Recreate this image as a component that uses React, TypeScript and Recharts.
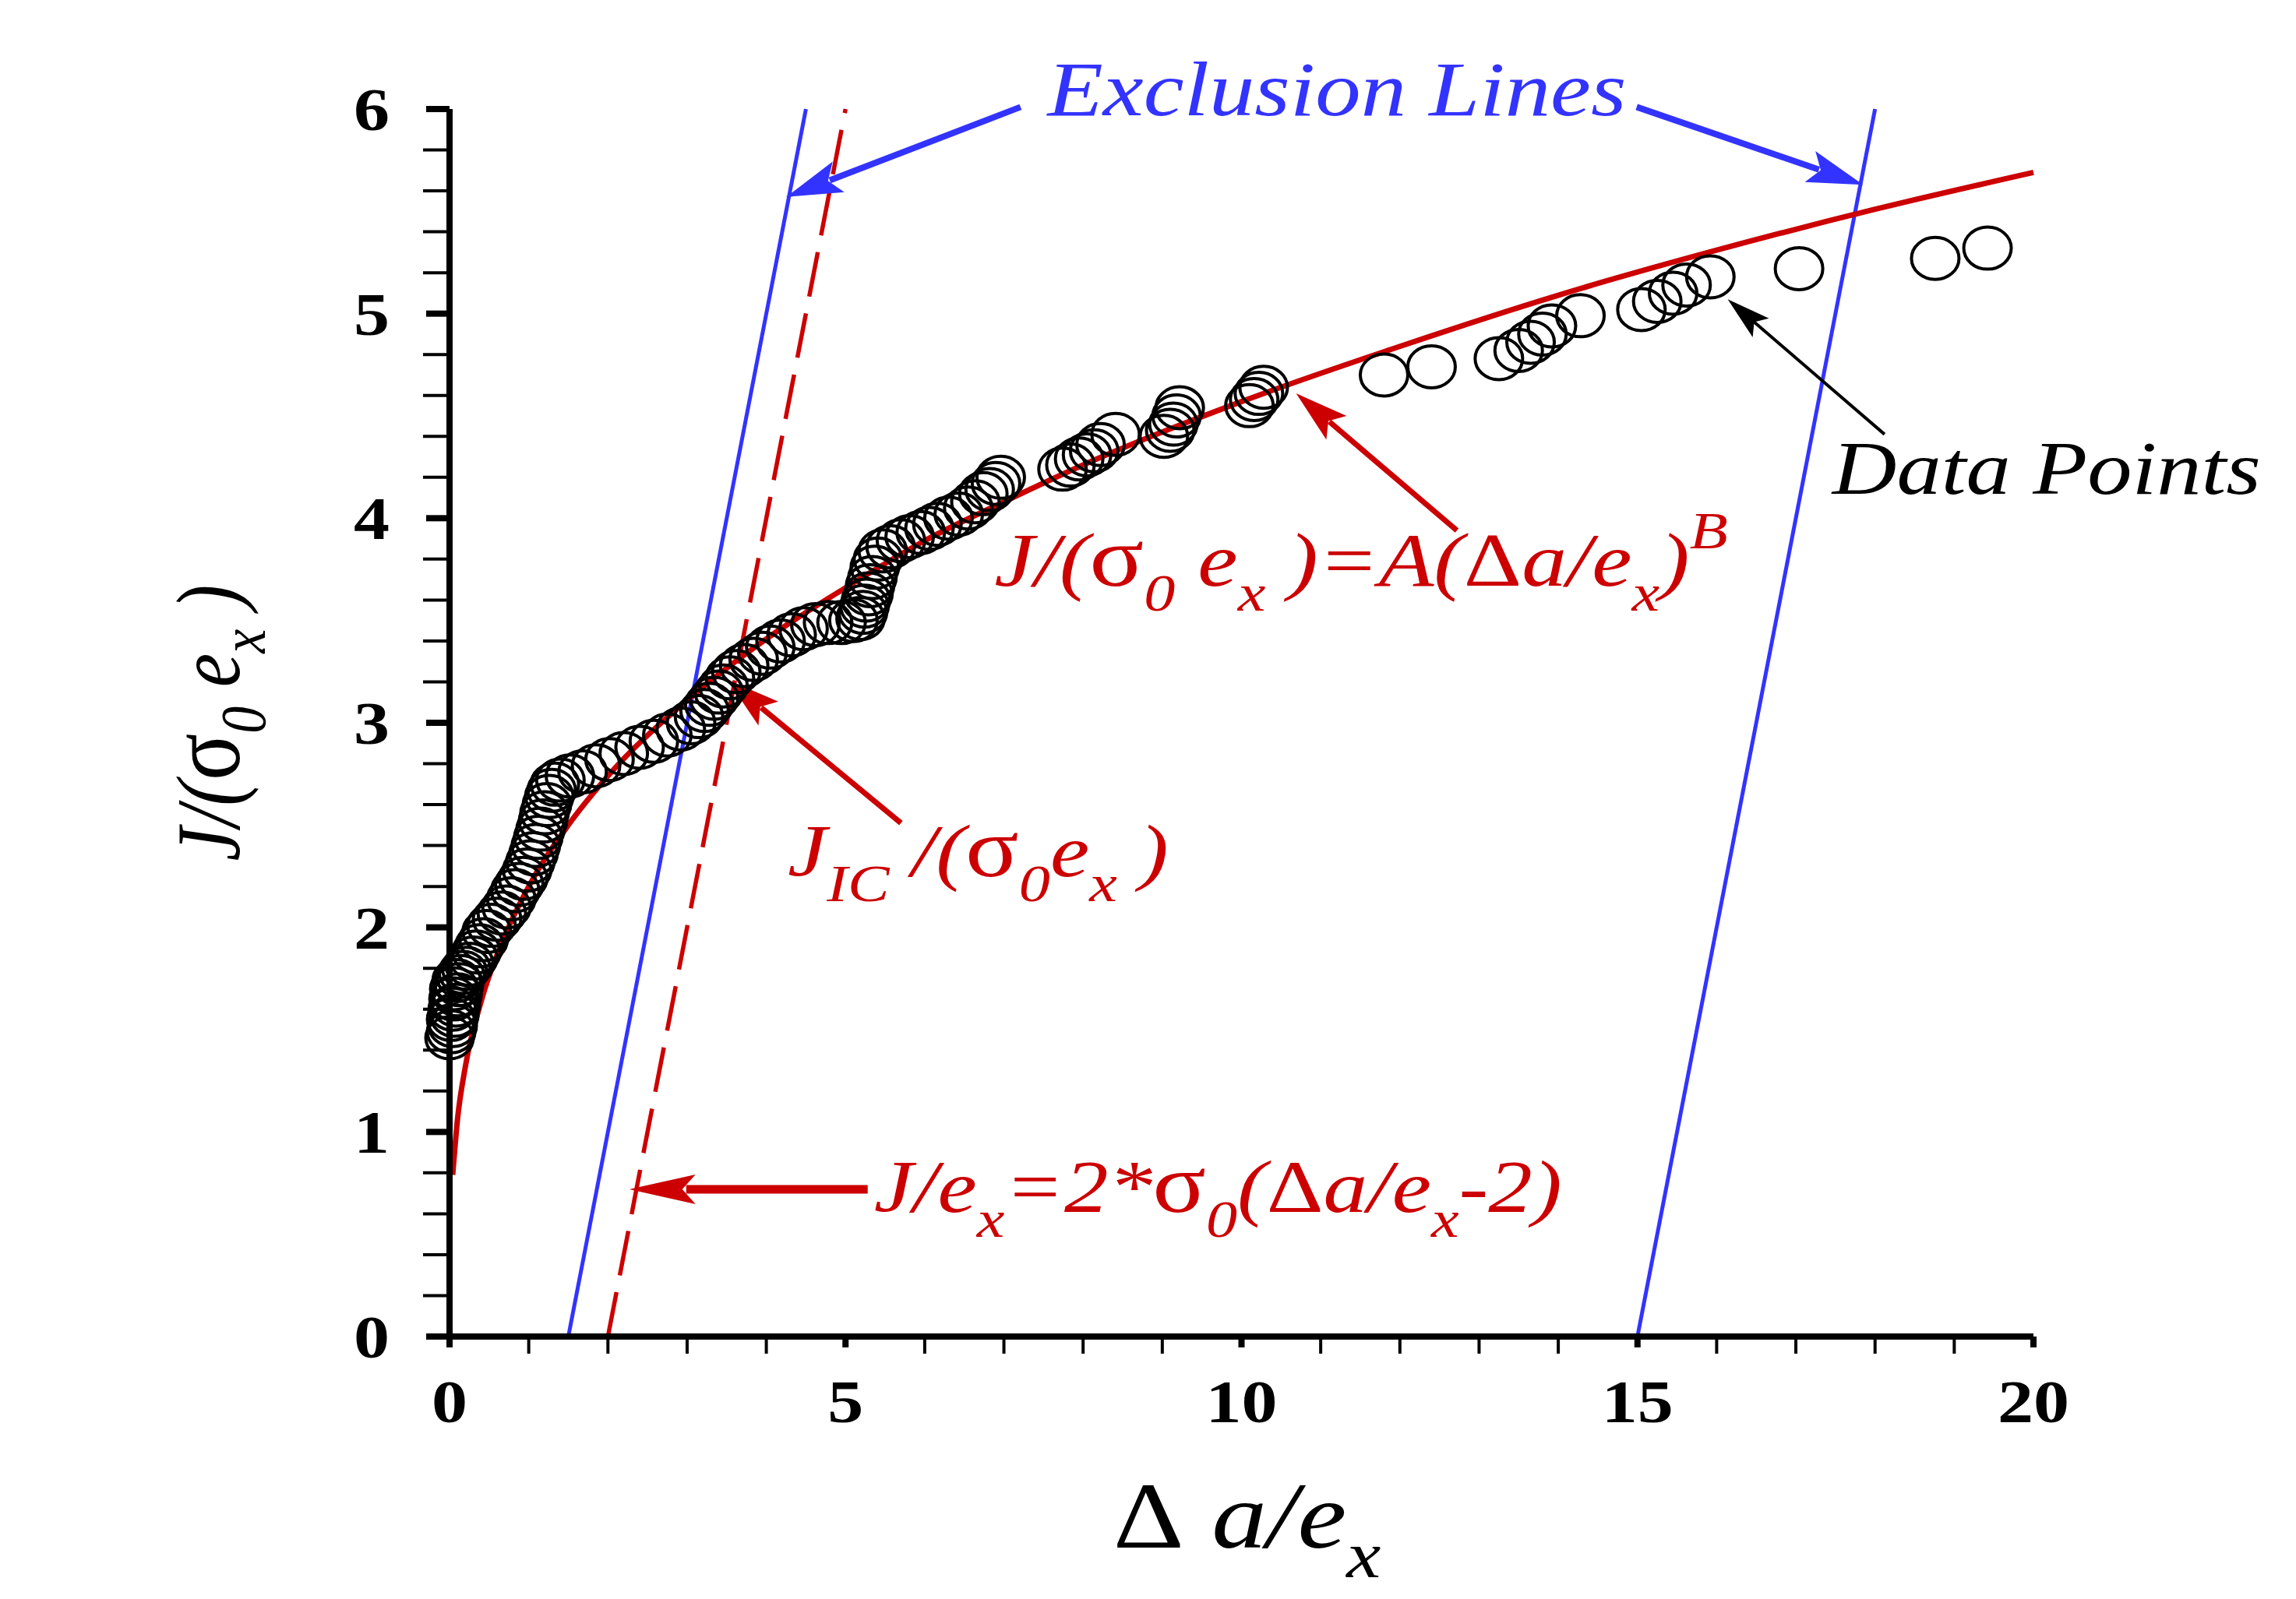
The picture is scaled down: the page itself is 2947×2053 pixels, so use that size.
import React from 'react';
import { ComposedChart, XAxis, YAxis, Scatter, Line, ReferenceLine, ReferenceDot } from 'recharts';

const W = 2947;
const H = 2053;
const SX = 1.18;
const FONT = '"Liberation Serif", "Times New Roman", serif';
const RED = '#cc0000';
const BLUE = '#3333ff';

// ---- tick values ----
const xTicks = [0, 1, 2, 3, 4, 5, 6, 7, 8, 9, 10, 11, 12, 13, 14, 15, 16, 17, 18, 19, 20];
const xMajor = [0, 5, 10, 15, 20];
const yTicks = [0, 0.2, 0.4, 0.6, 0.8, 1, 1.2, 1.4, 1.6, 1.8, 2, 2.2, 2.4, 2.6, 2.8, 3, 3.2, 3.4, 3.6, 3.8, 4, 4.2, 4.4, 4.6, 4.8, 5, 5.2, 5.4, 5.6, 5.8, 6];
const yMajor = [0, 1, 2, 3, 4, 5, 6];

// ---- data points (Δa/ex , J/(σ0 ex)) ----
const ptsX = [
  0.00, 0.02, 0.04, 0.02, 0.06, 0.04, 0.08, 0.05, 0.10, 0.06,
  0.12, 0.09, 0.14, 0.17, 0.21, 0.25, 0.30, 0.34, 0.38, 0.43,
  0.47, 0.53, 0.60, 0.66, 0.72, 0.78, 0.83, 0.88, 0.93, 0.98,
  1.02, 1.06, 1.09, 1.12, 1.15, 1.18, 1.20, 1.23, 1.26, 1.29,
  1.33, 1.40, 1.52, 1.68, 1.85, 2.02, 2.20, 2.40, 2.58, 2.75,
  2.92, 3.05, 3.15, 3.22, 3.28, 3.34, 3.40, 3.46, 3.54, 3.62,
  3.72, 3.84, 3.95, 4.05, 4.18, 4.32, 4.47, 4.62, 4.78, 4.95,
  5.10, 5.19, 5.22, 5.24, 5.26, 5.29, 5.31, 5.34, 5.37, 5.41,
  5.47, 5.57, 5.70, 5.81, 5.95, 6.06, 6.16, 6.30, 6.43, 6.55,
  6.64, 6.74, 6.82, 6.90, 6.96, 7.74, 7.84, 7.95, 8.05, 8.14,
  8.22, 8.41, 9.02, 9.10, 9.14, 9.18, 9.22, 10.10, 10.16, 10.22,
  10.28, 11.80, 12.40, 13.25, 13.50, 13.65, 13.80, 13.92, 14.28, 15.05,
  15.25, 15.45, 15.62, 15.92, 17.04, 18.76, 19.42,
];
const ptsY = [
  1.46, 1.49, 1.52, 1.55, 1.57, 1.60, 1.62, 1.65, 1.67, 1.70,
  1.72, 1.74, 1.76, 1.78, 1.80, 1.82, 1.85, 1.88, 1.91, 1.94,
  1.98, 2.01, 2.04, 2.07, 2.10, 2.14, 2.18, 2.21, 2.24, 2.28,
  2.32, 2.36, 2.40, 2.44, 2.48, 2.52, 2.56, 2.60, 2.64, 2.67,
  2.70, 2.72, 2.74, 2.76, 2.79, 2.82, 2.85, 2.88, 2.91, 2.94,
  2.97, 3.00, 3.03, 3.06, 3.09, 3.12, 3.15, 3.18, 3.22, 3.25,
  3.28, 3.31, 3.34, 3.37, 3.40, 3.43, 3.46, 3.48, 3.49, 3.49,
  3.50, 3.51, 3.54, 3.57, 3.60, 3.63, 3.67, 3.71, 3.76, 3.80,
  3.84, 3.86, 3.89, 3.91, 3.93, 3.95, 3.97, 4.00, 4.02, 4.05,
  4.08, 4.12, 4.14, 4.17, 4.20, 4.24, 4.26, 4.29, 4.31, 4.33,
  4.36, 4.41, 4.40, 4.43, 4.46, 4.50, 4.54, 4.55, 4.58, 4.61,
  4.64, 4.70, 4.74, 4.78, 4.82, 4.86, 4.90, 4.94, 4.99, 5.02,
  5.06, 5.10, 5.14, 5.18, 5.22, 5.27, 5.32,
];

// ---- fitted power-law curve ----
const fitX = [0.04, 0.1, 0.2, 0.4, 0.7, 1, 1.5, 2, 3, 4, 5, 6, 7, 8, 10, 12, 14, 16, 18, 20];
const fitY = [0.79, 1.06, 1.32, 1.64, 1.96, 2.20, 2.50, 2.74, 3.11, 3.41, 3.66, 3.89, 4.08, 4.26, 4.57, 4.84, 5.09, 5.31, 5.51, 5.69];

// ---- exclusion / construction lines ----
const exclLeftX = [1.5, 4.5];
const exclLeftY = [0, 6];
const bluntX = [2, 5];
const bluntY = [0, 6];
const exclRightX = [15, 18];
const exclRightY = [0, 6];

const toRows = (xs: number[], ys: number[]) => xs.map((x, i) => ({ x, y: ys[i] }));
const points = toRows(ptsX, ptsY);
const fitRows = toRows(fitX, fitY);
const exclLeft = toRows(exclLeftX, exclLeftY);
const blunt = toRows(bluntX, bluntY);
const exclRight = toRows(exclRightX, exclRightY);

// ---- text helper (horizontally stretched serif like the source) ----
function SText(props: any) {
  const { x, y, size, fill = '#000', anchor = 'start', weight = 'normal', fstyle = 'normal', rotate, children } = props;
  const tr = `translate(${x},${y}) scale(${SX},1)` + (rotate ? ` rotate(${rotate})` : '');
  return (
    <text
      transform={tr}
      x={0}
      y={0}
      fontSize={size}
      fontFamily={FONT}
      fill={fill}
      textAnchor={anchor}
      fontWeight={weight}
      fontStyle={fstyle}
      style={{ whiteSpace: 'pre' }}
    >
      {children}
    </text>
  );
}

const XTick = (props: any) => {
  const { x, y, payload } = props;
  const v = payload.value;
  const major = xMajor.includes(v);
  return (
    <g>
      <line x1={x} x2={x} y1={y} y2={y + (major ? 14 : 22)} stroke="#000" strokeWidth={major ? 8 : 4} />
      {major && (
        <SText x={x} y={y + 110} size={78} anchor="middle" weight="bold">
          {String(v)}
        </SText>
      )}
    </g>
  );
};

const YTick = (props: any) => {
  const { x, y, payload } = props;
  const v = payload.value;
  const major = yMajor.some((m) => Math.abs(m - v) < 1e-6);
  return (
    <g>
      <line x1={x - (major ? 30 : 34)} x2={x} y1={y} y2={y} stroke="#000" strokeWidth={major ? 8 : 4} />
      {major && (
        <SText x={x - 77} y={y + 27} size={78} anchor="end" weight="bold">
          {String(Math.round(v))}
        </SText>
      )}
    </g>
  );
};

const Ring = (props: any) => {
  const { cx, cy } = props;
  if (cx == null || cy == null) return null;
  return <ellipse cx={cx} cy={cy} rx={30.5} ry={27} fill="none" stroke="#000" strokeWidth={4} />;
};

const arrowShape = (color: string, width: number, headLen: number, headW: number) => (props: any) => {
  const x1 = Number(props.x1), y1 = Number(props.y1), x2 = Number(props.x2), y2 = Number(props.y2);
  const dx = x2 - x1, dy = y2 - y1;
  const L = Math.hypot(dx, dy) || 1;
  const ux = dx / L, uy = dy / L;
  const bx = x2 - ux * headLen, by = y2 - uy * headLen;
  const px = -uy, py = ux;
  const pts = `${x2},${y2} ${bx + (px * headW) / 2},${by + (py * headW) / 2} ${bx + ux * headLen * 0.2},${by + uy * headLen * 0.2} ${bx - (px * headW) / 2},${by - (py * headW) / 2}`;
  return (
    <g>
      <line x1={x1} y1={y1} x2={bx + ux * 12} y2={by + uy * 12} stroke={color} strokeWidth={width} />
      <polygon points={pts} fill={color} />
    </g>
  );
};

// annotation arrows: tail -> tip in data units
const arrows = [
  { tail: { x: 7.21, y: 6.01 }, tip: { x: 4.25, y: 5.57 }, color: BLUE, w: 8, hl: 72, hw: 42 },
  { tail: { x: 14.99, y: 6.01 }, tip: { x: 17.85, y: 5.63 }, color: BLUE, w: 8, hl: 72, hw: 42 },
  { tail: { x: 18.12, y: 4.41 }, tip: { x: 16.14, y: 5.07 }, color: '#000', w: 4, hl: 56, hw: 32 },
  { tail: { x: 12.72, y: 3.94 }, tip: { x: 10.69, y: 4.61 }, color: RED, w: 7, hl: 68, hw: 40 },
  { tail: { x: 5.70, y: 2.51 }, tip: { x: 3.51, y: 3.21 }, color: RED, w: 7, hl: 68, hw: 40 },
  { tail: { x: 5.28, y: 0.72 }, tip: { x: 2.27, y: 0.72 }, color: RED, w: 11, hl: 85, hw: 38 },
];

const SUB = 68;
const SUBDY = 32;

export default function App() {
  return (
    <div style={{ position: 'absolute', left: 0, top: 0, width: W, height: H, background: '#fff' }}>
      <ComposedChart width={W} height={H} margin={{ top: 140, right: 337, left: 300, bottom: 137 }}>
        <XAxis
          type="number"
          dataKey="x"
          domain={[0, 20]}
          ticks={xTicks}
          interval={0}
          height={200}
          tickSize={0}
          tickMargin={0}
          tickLine={false}
          axisLine={{ stroke: '#000', strokeWidth: 8 }}
          tick={<XTick />}
        />
        <YAxis
          type="number"
          dataKey="y"
          domain={[0, 6]}
          ticks={yTicks}
          interval={0}
          width={277}
          tickSize={0}
          tickMargin={0}
          tickLine={false}
          axisLine={{ stroke: '#000', strokeWidth: 8 }}
          tick={<YTick />}
        />

        <Scatter data={points} dataKey="y" shape={<Ring />} isAnimationActive={false} />

        <Line data={exclLeft} dataKey="y" type="linear" stroke={BLUE} strokeWidth={5} dot={false} activeDot={false} isAnimationActive={false} />
        <Line data={exclRight} dataKey="y" type="linear" stroke={BLUE} strokeWidth={5} dot={false} activeDot={false} isAnimationActive={false} />
        <Line data={blunt} dataKey="y" type="linear" stroke={RED} strokeWidth={5.5} strokeDasharray="58 22" dot={false} activeDot={false} isAnimationActive={false} />
        <Line data={fitRows} dataKey="y" type="monotone" stroke={RED} strokeWidth={7} dot={false} activeDot={false} isAnimationActive={false} />

        {arrows.map((a, i) => (
          <ReferenceLine
            key={'arr' + i}
            segment={[a.tail, a.tip]}
            ifOverflow="visible"
            shape={arrowShape(a.color, a.w, a.hl, a.hw)}
          />
        ))}

        <ReferenceDot
          x={7.55}
          y={5.97}
          r={0}
          ifOverflow="visible"
          shape={(p: any) => (
            <SText x={p.cx} y={p.cy} size={99} fill={BLUE} fstyle="italic">
              Exclusion Lines
            </SText>
          )}
        />
        <ReferenceDot
          x={17.46}
          y={4.12}
          r={0}
          ifOverflow="visible"
          shape={(p: any) => (
            <SText x={p.cx} y={p.cy} size={97} fill="#000" fstyle="italic">
              Data Points
            </SText>
          )}
        />
        <ReferenceDot
          x={6.88}
          y={3.67}
          r={0}
          ifOverflow="visible"
          shape={(p: any) => (
            <SText x={p.cx} y={p.cy} size={98} fill={RED} fstyle="italic">
              <tspan>J/(</tspan>
              <tspan fontStyle="normal" fontSize={110}>σ</tspan>
              <tspan fontSize={SUB} dy={SUBDY}>0</tspan>
              <tspan dy={-SUBDY}> e</tspan>
              <tspan fontSize={SUB} dy={SUBDY}>x</tspan>
              <tspan dy={-SUBDY}> )=A(</tspan>
              <tspan fontStyle="normal">Δ</tspan>
              <tspan>a/e</tspan>
              <tspan fontSize={SUB} dy={SUBDY}>x</tspan>
              <tspan dy={-SUBDY}>)</tspan>
              <tspan fontSize={SUB} dy={-48}>B</tspan>
            </SText>
          )}
        />
        <ReferenceDot
          x={4.27}
          y={2.25}
          r={0}
          ifOverflow="visible"
          shape={(p: any) => (
            <SText x={p.cx} y={p.cy} size={96} fill={RED} fstyle="italic">
              <tspan>J</tspan>
              <tspan fontSize={SUB} dy={SUBDY}>IC</tspan>
              <tspan dy={-SUBDY}> /(</tspan>
              <tspan fontStyle="normal" fontSize={108}>σ</tspan>
              <tspan fontSize={SUB} dy={SUBDY}>0</tspan>
              <tspan dy={-SUBDY}>e</tspan>
              <tspan fontSize={SUB} dy={SUBDY}>x</tspan>
              <tspan dy={-SUBDY}> )</tspan>
            </SText>
          )}
        />
        <ReferenceDot
          x={5.36}
          y={0.61}
          r={0}
          ifOverflow="visible"
          shape={(p: any) => (
            <SText x={p.cx} y={p.cy} size={96} fill={RED} fstyle="italic">
              <tspan>J/e</tspan>
              <tspan fontSize={SUB} dy={SUBDY}>x</tspan>
              <tspan dy={-SUBDY}>=2*</tspan>
              <tspan fontStyle="normal" fontSize={108}>σ</tspan>
              <tspan fontSize={SUB} dy={SUBDY}>0</tspan>
              <tspan dy={-SUBDY}>(</tspan>
              <tspan fontStyle="normal">Δ</tspan>
              <tspan>a/e</tspan>
              <tspan fontSize={SUB} dy={SUBDY}>x</tspan>
              <tspan dy={-SUBDY}>-2)</tspan>
            </SText>
          )}
        />

        {/* axis titles */}
        <ReferenceDot
          x={8.38}
          y={-1.03}
          r={0}
          ifOverflow="visible"
          shape={(p: any) => (
            <SText x={p.cx} y={p.cy} size={120} fill="#000">
              <tspan>Δ</tspan>
              <tspan fontStyle="italic"> a/e</tspan>
              <tspan fontStyle="italic" fontSize={84} dy={38}>x</tspan>
            </SText>
          )}
        />
        <ReferenceDot
          x={-2.66}
          y={3.0}
          r={0}
          ifOverflow="visible"
          shape={(p: any) => (
            <SText x={p.cx} y={p.cy} size={98} fill="#000" fstyle="italic" anchor="middle" rotate={-90}>
              <tspan>J/(</tspan>
              <tspan fontStyle="normal" fontSize={112}>σ</tspan>
              <tspan fontSize={70} dy={28}>0</tspan>
              <tspan dy={-28}> e</tspan>
              <tspan fontSize={70} dy={28}>x</tspan>
              <tspan dy={-28}> )</tspan>
            </SText>
          )}
        />
      </ComposedChart>
    </div>
  );
}
